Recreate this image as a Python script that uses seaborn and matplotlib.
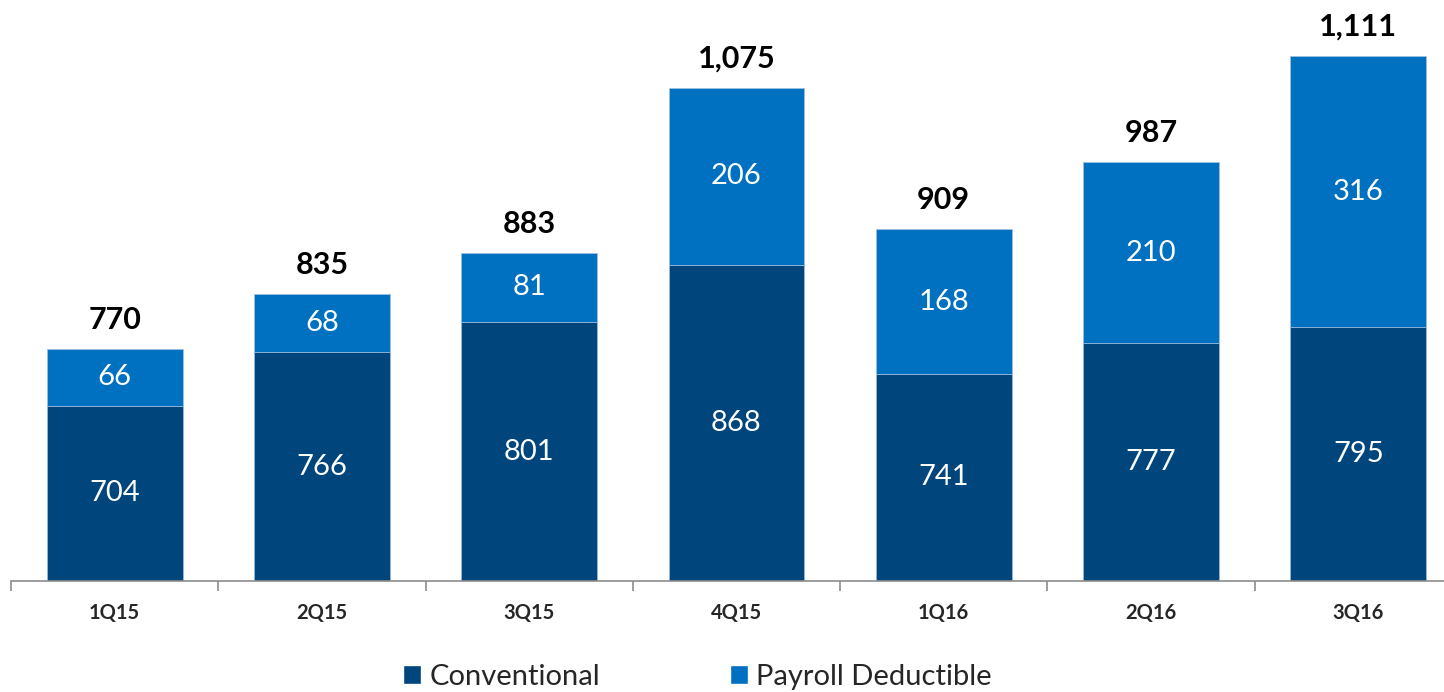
import matplotlib
matplotlib.use("Agg")
import matplotlib.pyplot as plt
import seaborn as sns
import numpy as np
import pandas as pd
from matplotlib.patches import Patch

quarters = ["1Q15", "2Q15", "3Q15", "4Q15", "1Q16", "2Q16", "3Q16"]
conventional = [704, 766, 801, 868, 741, 777, 795]
payroll = [66, 68, 81, 206, 168, 210, 316]
totals = ["770", "835", "883", "1,075", "909", "987", "1,111"]

DARK = "#00457C"
LIGHT = "#0070C0"
FONT = "Lato"
Y0, Y1 = 500, 1176

sns.set_theme(style="white")
plt.rcParams["font.family"] = [FONT, "DejaVu Sans"]

fig = plt.figure(figsize=(14.44, 6.92), dpi=100)
ax = fig.add_axes([11/1444, 111/692, 1451/1444, 581/692])

stack_top = [c + p for c, p in zip(conventional, payroll)]
df = pd.DataFrame({"q": quarters, "conv": conventional, "pay": payroll, "top": stack_top})

sns.barplot(data=df, x="q", y="top", order=quarters, color=LIGHT, saturation=1,
            width=0.656, edgecolor="#9fc0e0", linewidth=0.6, ax=ax)
sns.barplot(data=df, x="q", y="conv", order=quarters, color=DARK, saturation=1,
            width=0.656, edgecolor="#9fc0e0", linewidth=0.6, ax=ax)

ax.set_ylim(Y0, Y1)
ax.set_xlim(-0.5, len(quarters) - 0.5)

for i, (c, p, t) in enumerate(zip(conventional, payroll, totals)):
    ax.text(i, (Y0 + c) / 2, str(c), ha="center", va="center", color="white",
            fontsize=21, family=FONT)
    ax.text(i, c + p / 2, str(p), ha="center", va="center", color="white",
            fontsize=21, family=FONT)
    ax.annotate(t, xy=(i, c + p), xytext=(0, 21), textcoords="offset points",
                ha="center", va="center", fontsize=22, fontweight="bold",
                family=FONT, color="black")

for s in ["top", "right", "left"]:
    ax.spines[s].set_visible(False)
ax.spines["bottom"].set_color("#8c8c8c")
ax.spines["bottom"].set_linewidth(1.2)
ax.set_yticks([])
ax.set_xlabel("")
ax.set_ylabel("")
ax.set_xticks(range(len(quarters)))
ax.set_xticklabels(quarters, fontsize=14.5, fontweight="bold", family=FONT)
ax.tick_params(axis="x", which="major", length=0, pad=16)
ax.set_xticks(np.arange(-0.5, len(quarters)), minor=True)
ax.tick_params(axis="x", which="minor", length=7, width=1.2, color="#8c8c8c", bottom=True)

handles = [Patch(facecolor=DARK, label="Conventional"),
           Patch(facecolor=LIGHT, label="Payroll Deductible")]
fig.legend(handles=handles, loc="center", bbox_to_anchor=(697.5/1444, 1 - 677/692), ncol=2,
           frameon=False, handlelength=0.62, handleheight=0.62,
           handletextpad=0.28, columnspacing=4.45, prop={"family": FONT, "size": 21})

fig.savefig("out.png", dpi=100)
